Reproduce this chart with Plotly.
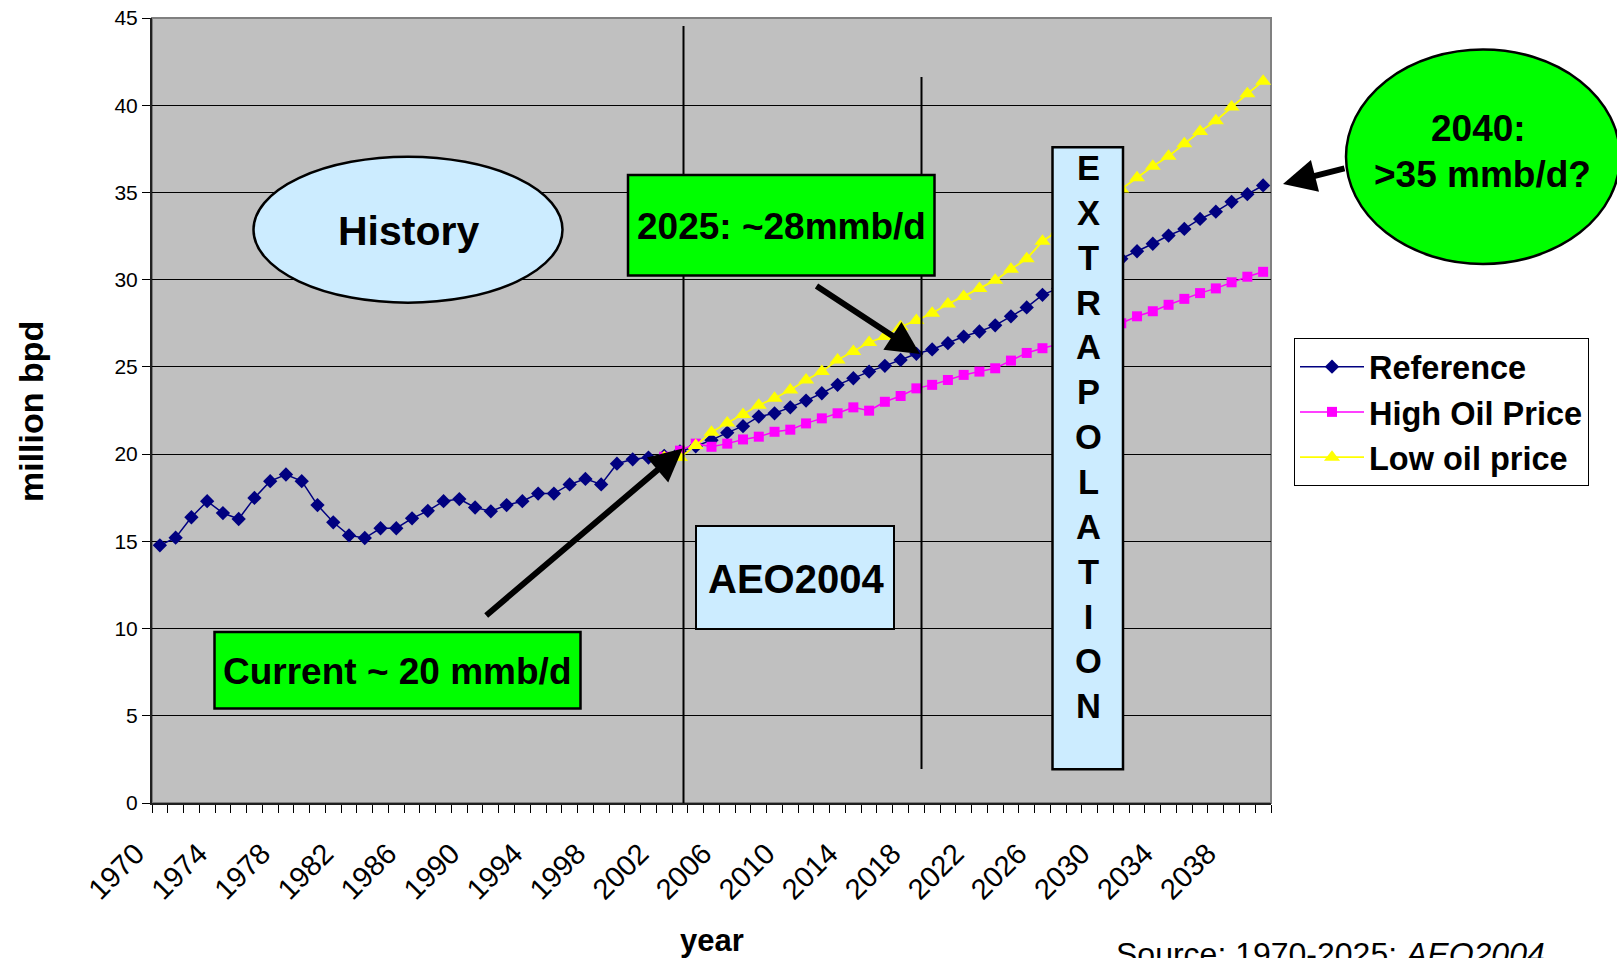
import plotly.graph_objects as go

# ---- data (million barrels per day) ----
years = list(range(1970, 2041))
reference = [
    14.77, 15.21, 16.38, 17.30, 16.62, 16.28, 17.49, 18.45, 18.83, 18.45,
    17.08, 16.09, 15.34, 15.19, 15.75, 15.75, 16.32, 16.75, 17.30, 17.42,
    16.94, 16.72, 17.08, 17.30, 17.74, 17.74, 18.26, 18.58, 18.26, 19.45,
    19.70, 19.80, 19.90, 20.15, 20.45, 20.80, 21.23, 21.60, 22.15, 22.34,
    22.68, 23.07, 23.49, 23.97, 24.35, 24.73, 25.06, 25.40, 25.75, 26.00,
    26.36, 26.74, 27.03, 27.38, 27.90, 28.41, 29.13, 29.50, 29.95, 30.40,
    30.80, 31.20, 31.63, 32.06, 32.53, 32.91, 33.48, 33.90, 34.46, 34.90,
    35.40,
]
scenario_years = list(range(2002, 2041))
high_oil_price = [
    19.85, 20.20, 20.60, 20.42, 20.60, 20.84, 21.00, 21.28, 21.40, 21.76,
    22.05, 22.34, 22.68, 22.49, 23.00, 23.33, 23.77, 23.97, 24.25, 24.54,
    24.73, 24.92, 25.36, 25.80, 26.07, 26.30, 26.60, 26.90, 27.20, 27.50,
    27.90, 28.19, 28.56, 28.90, 29.23, 29.50, 29.85, 30.17, 30.45,
]
low_oil_price = [
    19.80, 19.80, 20.50, 21.25, 21.78, 22.27, 22.80, 23.20, 23.68, 24.25,
    24.73, 25.40, 25.88, 26.40, 26.74, 27.30, 27.66, 28.08, 28.60, 29.04,
    29.50, 29.96, 30.60, 31.20, 32.20, 32.80, 33.35, 33.95, 34.60, 35.20,
    35.84, 36.50, 37.07, 37.79, 38.49, 39.11, 39.90, 40.66, 41.38,
]
tick_years = list(range(1970, 2039, 4))
y_ticks = list(range(0, 46, 5))

# ---- page geometry (pixels) ----
FIG_W, FIG_H = 1617, 958
L, R, T, B = 152, 1271, 18, 803


def px(x):
    return (x - L) / (R - L)


def py(y):
    return (B - y) / (B - T)


FONT = "Liberation Sans, Arial, sans-serif"
NAVY, MAGENTA, YELLOW = "#000080", "#FF00FF", "#FFFF00"
GREEN, LIGHT_BLUE = "#00FF00", "#CCECFF"

fig = go.Figure()
fig.add_trace(go.Scatter(
    x=years, y=reference, mode="lines+markers", name="<b>Reference</b>",
    line=dict(color=NAVY, width=1.5),
    marker=dict(symbol="diamond", size=11, color=NAVY),
))
fig.add_trace(go.Scatter(
    x=scenario_years, y=high_oil_price, mode="lines+markers", name="<b>High Oil Price</b>",
    line=dict(color=MAGENTA, width=1.5),
    marker=dict(symbol="square", size=10, color=MAGENTA),
))
fig.add_trace(go.Scatter(
    x=scenario_years, y=low_oil_price, mode="lines+markers", name="<b>Low oil price</b>",
    line=dict(color=YELLOW, width=1.8),
    marker=dict(symbol="triangle-up", size=14, color=YELLOW),
))

shapes = [
    # plot frame
    dict(type="rect", xref="paper", yref="paper", x0=0, x1=1, y0=0, y1=1,
         line=dict(color="#808080", width=2), layer="below"),
    # vertical markers
    dict(type="line", xref="paper", yref="paper", x0=px(683.5), x1=px(683.5),
         y0=py(26), y1=py(803), line=dict(color="black", width=2), layer="above"),
    dict(type="line", xref="paper", yref="paper", x0=px(921.5), x1=px(921.5),
         y0=py(77), y1=py(769), line=dict(color="black", width=2), layer="above"),
    # History ellipse
    dict(type="circle", xref="paper", yref="paper", x0=px(253.5), x1=px(562.5),
         y0=py(302.7), y1=py(156.7), fillcolor=LIGHT_BLUE,
         line=dict(color="black", width=2.5), layer="above"),
    # 2025 box
    dict(type="rect", xref="paper", yref="paper", x0=px(628), x1=px(934.5),
         y0=py(275.5), y1=py(175), fillcolor=GREEN,
         line=dict(color="black", width=2.5), layer="above"),
    # Current box
    dict(type="rect", xref="paper", yref="paper", x0=px(214.5), x1=px(580.5),
         y0=py(708.5), y1=py(632), fillcolor=GREEN,
         line=dict(color="black", width=2.5), layer="above"),
    # AEO2004 box
    dict(type="rect", xref="paper", yref="paper", x0=px(696), x1=px(894),
         y0=py(629), y1=py(526), fillcolor=LIGHT_BLUE,
         line=dict(color="black", width=2), layer="above"),
    # EXTRAPOLATION box
    dict(type="rect", xref="paper", yref="paper", x0=px(1052.5), x1=px(1123),
         y0=py(769.3), y1=py(147.3), fillcolor=LIGHT_BLUE,
         line=dict(color="black", width=2.5), layer="above"),
    # 2040 ellipse
    dict(type="circle", xref="paper", yref="paper", x0=px(1346), x1=px(1620),
         y0=py(264), y1=py(49.5), fillcolor=GREEN,
         line=dict(color="black", width=2.5), layer="above"),
]


def label(text, x, y, size, **kw):
    d = dict(text=text, xref="paper", yref="paper", x=px(x), y=py(y),
             xanchor="center", yanchor="middle", showarrow=False,
             font=dict(family=FONT, size=size, color="black"))
    d.update(kw)
    return d


def arrow(hx, hy, tx, ty):
    return dict(text="", xref="paper", yref="paper", x=px(hx), y=py(hy),
                ax=tx - hx, ay=ty - hy, showarrow=True, arrowhead=2,
                arrowsize=1.1, arrowwidth=6, arrowcolor="black", standoff=0)


annotations = [
    label("<b>History</b>", 408, 231, 41),
    label("<b>2025: ~28mmb/d</b>", 781, 226, 37),
    label("<b>Current ~ 20 mmb/d</b>", 397.5, 671, 37),
    label("<b>AEO2004</b>", 795.5, 579, 40),
    label("<b>" + "<br>".join("EXTRAPOLATION") + "</b>", 1088, 437, 34.5),
    label("<b>2040:</b>", 1478, 129, 37),
    label("<b>>35 mmb/d?</b>", 1482, 175, 37),
    arrow(682.7, 448.6, 484.7, 616.7),
    arrow(920, 354, 815, 285),
    arrow(1283, 184, 1346, 168),
    label("<b>million bpd</b>", 31, 412, 34, textangle=-90),
    label("<b>year</b>", 711.5, 940, 31),
    label("Source: 1970-2025: <i>AEO2004</i>", 1330, 934, 32, yanchor="top"),
]

fig.update_layout(
    width=FIG_W, height=FIG_H,
    margin=dict(l=L, r=FIG_W - R, t=T, b=FIG_H - B, pad=0),
    paper_bgcolor="white", plot_bgcolor="#C0C0C0",
    font=dict(family=FONT, color="black"),
    showlegend=True,
    legend=dict(
        x=px(1294), y=py(338), xanchor="left", yanchor="top",
        bgcolor="white", bordercolor="black", borderwidth=1,
        font=dict(family=FONT, size=32.5, color="black"),
        itemwidth=64, tracegroupgap=0,
    ),
    xaxis=dict(
        range=[1969.5, 2040.5], tickmode="array", tickvals=tick_years,
        ticktext=[str(y) for y in tick_years], tickangle=-45,
        tickfont=dict(family=FONT, size=29, color="black"),
        ticks="outside", ticklen=8, tickcolor="rgba(0,0,0,0)",
        ticklabelshift=-24, ticklabelstandoff=12,
        showgrid=False, zeroline=False, automargin=False,
        showline=True, linecolor="#202020", linewidth=2,
        minor=dict(tickvals=[1969.5 + i for i in range(72)], ticks="outside",
                   ticklen=8, tickwidth=1, tickcolor="black", showgrid=False),
    ),
    yaxis=dict(
        range=[0, 45], tickmode="array", tickvals=y_ticks,
        tickfont=dict(family=FONT, size=21, color="black"),
        ticks="outside", ticklen=8, tickcolor="black",
        showgrid=True, gridcolor="black", gridwidth=1, zeroline=False,
        automargin=False,
        showline=True, linecolor="#202020", linewidth=2,
    ),
    shapes=shapes,
    annotations=annotations,
)

fig.write_html("out.html")
